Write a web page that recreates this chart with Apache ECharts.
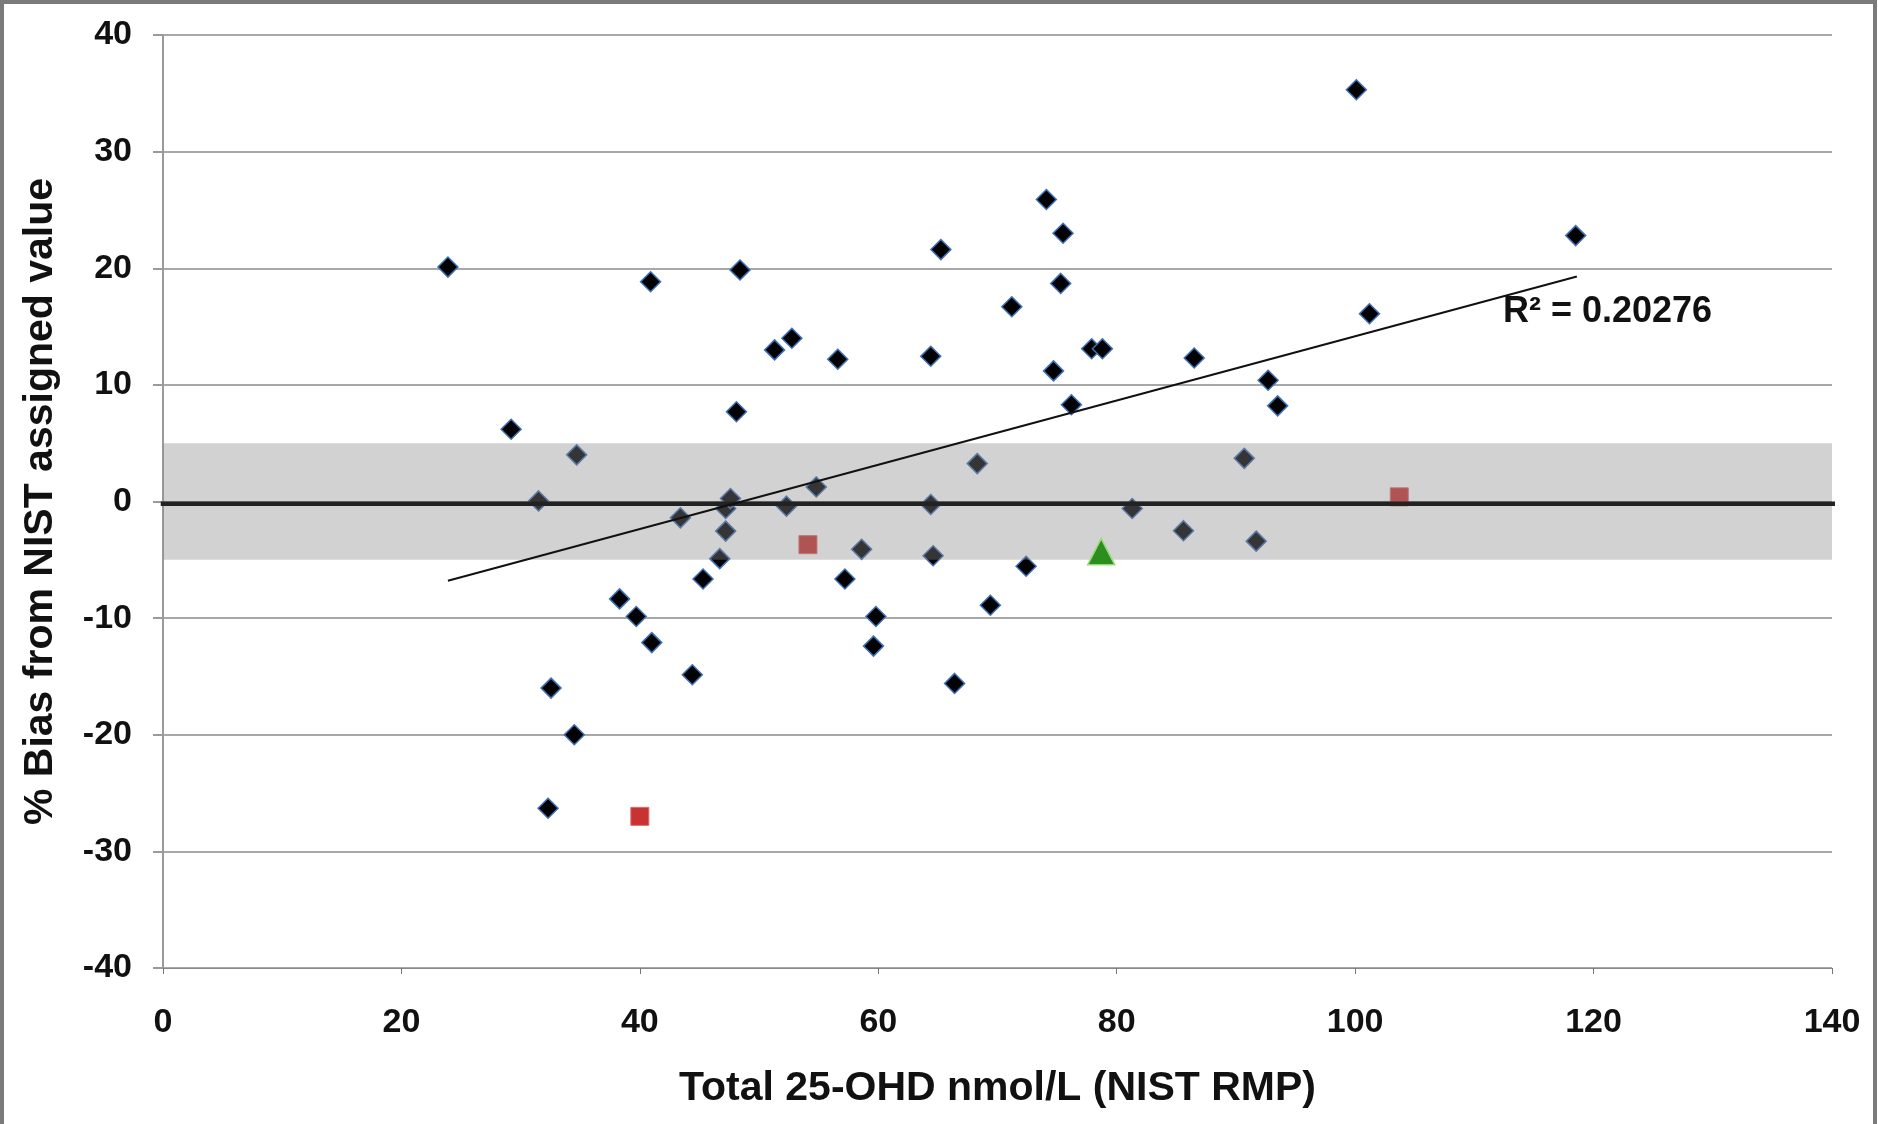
<!DOCTYPE html>
<html>
<head>
<meta charset="utf-8">
<script src="https://cdn.jsdelivr.net/npm/echarts@6/dist/echarts.min.js"></script>
<style>
html,body{margin:0;padding:0;background:#fff;}
#chart{width:1878px;height:1124px;}
</style>
</head>
<body>
<div id="chart"></div>
<script>
// ---- data ----
var xTicks = [0, 20, 40, 60, 80, 100, 120, 140];
var yTicks = [-40, -30, -20, -10, 0, 10, 20, 30, 40];

var labX = [23.9, 29.2, 31.5, 34.7, 32.55, 34.5, 32.3, 38.3, 39.7, 40.9, 41.0, 43.4, 44.4, 45.3, 46.7, 47.2, 47.2, 47.6, 48.1, 48.4, 51.3, 52.75, 52.3, 54.8, 56.6, 57.2, 58.6, 59.8, 59.6, 64.4, 64.4, 64.6, 65.25, 66.4, 68.3, 69.4, 71.2, 72.4, 74.1, 74.7, 75.5, 75.3, 76.2, 77.9, 78.8, 81.3, 85.6, 86.5, 90.7, 91.7, 92.7, 93.5, 100.1, 101.2, 118.5];
var labY = [20.1, 6.2, 0.05, 4.0, -16.0, -20.0, -26.3, -8.35, -9.86, 18.84, -12.1, -1.4, -14.85, -6.64, -4.9, -2.54, -0.6, 0.25, 7.7, 19.85, 13.0, 14.0, -0.4, 1.25, 12.2, -6.64, -4.1, -9.86, -12.4, 12.45, -0.26, -4.65, 21.6, -15.6, 3.25, -8.9, 16.7, -5.55, 25.9, 11.2, 23.0, 18.7, 8.3, 13.1, 13.1, -0.6, -2.5, 12.3, 3.7, -3.4, 10.4, 8.2, 35.3, 16.1, 22.8];

var redX = [40.0, 54.1, 103.7];
var redY = [-27.0, -3.7, 0.4];

var greenX = [78.7];
var greenY = [-4.3];

var trendX = [23.9, 118.6];
var trendY = [-6.8, 19.3];

var bandRange = [0, 140, -5, 5];   // xFrom, xTo, yLow, yHigh
var zeroX = [0, 140.4];
var zeroY = [-0.2, -0.2];

var r2Text = 'R\u00b2 = 0.20276';
var r2Pos = [112.4, 16.2];

function zip(a, b) { return a.map(function (v, i) { return [v, b[i]]; }); }

var FONT = '"Liberation Sans", Arial, Helvetica, sans-serif';
var chart = echarts.init(document.getElementById('chart'));

var option = {
  backgroundColor: '#ffffff',
  animation: false,
  textStyle: { fontFamily: FONT },
  grid: { left: 163, right: 46, top: 35, bottom: 156 },
  xAxis: [{
    type: 'value', min: xTicks[0], max: xTicks[xTicks.length - 1], interval: 20,
    position: 'bottom',
    axisLine: { show: false }, axisTick: { show: false }, splitLine: { show: false },
    axisLabel: { fontSize: 34, fontWeight: 'bold', color: '#111', margin: 38, fontFamily: FONT },
    name: 'Total 25-OHD nmol/L (NIST RMP)', nameLocation: 'middle', nameGap: 100,
    nameTextStyle: { fontSize: 41, fontWeight: 'bold', color: '#111', fontFamily: FONT }
  }, {
    type: 'value', min: xTicks[0], max: xTicks[xTicks.length - 1], interval: 20,
    position: 'bottom',
    axisLine: { show: true, onZero: true, lineStyle: { color: '#888', width: 1 } },
    axisTick: { show: true, length: 6, lineStyle: { color: '#777', width: 1 } },
    axisLabel: { show: false }, splitLine: { show: false }
  }],
  yAxis: {
    type: 'value', min: yTicks[0], max: yTicks[yTicks.length - 1], interval: 10,
    axisLine: { show: true, onZero: false, lineStyle: { color: '#9a9a9a', width: 2 } },
    axisTick: { show: true, length: 10, lineStyle: { color: '#9a9a9a', width: 2 } },
    splitLine: { show: true, lineStyle: { color: '#a8a8a8', width: 2 } },
    axisLabel: { fontSize: 34, fontWeight: 'bold', color: '#111', margin: 31, fontFamily: FONT },
    name: '% Bias from NIST assigned value', nameLocation: 'middle', nameGap: 102,
    nameRotate: 90,
    nameTextStyle: { fontSize: 41, fontWeight: 'bold', color: '#111', fontFamily: FONT }
  },
  series: [
    {
      type: 'scatter', name: 'labs', z: 2, symbol: 'diamond', symbolSize: 20,
      data: zip(labX, labY),
      itemStyle: { color: '#020205', borderColor: '#3f72b5', borderWidth: 1.5, opacity: 1 }
    },
    {
      type: 'scatter', name: 'red', z: 2, symbol: 'rect', symbolSize: 18,
      data: zip(redX, redY),
      itemStyle: { color: '#c83232', borderColor: '#e06a6a', borderWidth: 1, opacity: 1 }
    },
    {
      type: 'custom', name: 'band', z: 3, silent: true,
      data: [bandRange],
      renderItem: function (params, api) {
        var p1 = api.coord([api.value(0), api.value(3)]);
        var p2 = api.coord([api.value(1), api.value(2)]);
        return {
          type: 'rect',
          shape: { x: p1[0], y: p1[1], width: p2[0] - p1[0], height: p2[1] - p1[1] },
          style: { fill: 'rgba(136,136,136,0.38)' }
        };
      },
      encode: { x: [0, 1], y: [2, 3] }
    },
    {
      type: 'scatter', name: 'green', z: 4, symbol: 'triangle', symbolSize: [27, 26],
      data: zip(greenX, greenY),
      itemStyle: { color: '#2a8f1c', borderColor: '#9ad878', borderWidth: 1.5, opacity: 1 }
    },
    {
      type: 'line', name: 'zero', z: 4, clip: false, symbol: 'none',
      data: zip(zeroX, zeroY),
      lineStyle: { color: '#222', width: 4.5, cap: 'square' }
    },
    {
      type: 'line', name: 'trend', z: 5, symbol: 'none',
      data: zip(trendX, trendY),
      lineStyle: { color: '#111', width: 2 }
    },
    {
      type: 'scatter', name: 'r2', z: 6, symbolSize: 0, silent: true,
      data: [r2Pos],
      itemStyle: { opacity: 1 },
      label: {
        show: true, position: 'right', distance: 0, formatter: r2Text,
        fontSize: 36, fontWeight: 'bold', color: '#111', fontFamily: FONT
      }
    }
  ],
  graphic: [{
    type: 'rect', z: 100, silent: true,
    shape: { x: 2, y: 2, width: 1873, height: 1150 },
    style: { fill: 'none', stroke: '#7a7a7a', lineWidth: 4 }
  }]
};
chart.setOption(option);
</script>
</body>
</html>
